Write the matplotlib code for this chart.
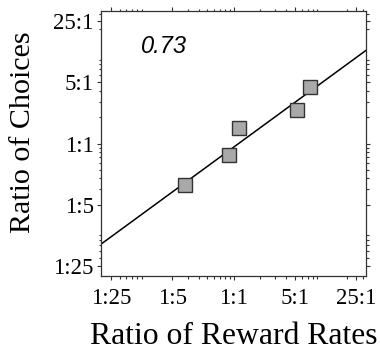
import numpy as np
import matplotlib
matplotlib.use("Agg")
import matplotlib.pyplot as plt
from matplotlib.ticker import FixedLocator, LogLocator, NullFormatter

# reward-rate ratio vs choice ratio, one point per session block
reward_ratio = [0.281, 0.893, 1.152, 5.37, 7.49]
choice_ratio = [0.338, 0.744, 1.50, 2.40, 4.35]

# fitted power law: choices = b * rewards ** slope
slope = 0.73
bias = 0.906

tick_vals = [1 / 25, 1 / 5, 1, 5, 25]
tick_labels = ["1:25", "1:5", "1:1", "5:1", "25:1"]
lim = (1 / 32.5, 32.5)

plt.rcParams["font.family"] = ["Liberation Serif", "DejaVu Serif"]

fig = plt.figure(figsize=(3.8, 3.5), dpi=100)
ax = fig.add_axes([0.266, 0.211, 0.697, 0.758])

xs = np.geomspace(lim[0], lim[1], 100)
ax.plot(xs, bias * xs ** slope, color="black", lw=1.1, zorder=2)
ax.plot(reward_ratio, choice_ratio, ls="none", marker="s", ms=9.8,
        mfc="#a9a9a9", mec="#333333", mew=1.0, zorder=3)

ax.set_xscale("log")
ax.set_yscale("log")
ax.set_xlim(lim)
ax.set_ylim(lim)

for axis in (ax.xaxis, ax.yaxis):
    axis.set_major_locator(FixedLocator(tick_vals))
    axis.set_minor_locator(LogLocator(base=10, subs=np.arange(2, 10)))
    axis.set_minor_formatter(NullFormatter())
ax.set_xticklabels(tick_labels)
ax.set_yticklabels(tick_labels)

ax.tick_params(which="both", direction="out", top=True, right=True,
               labeltop=False, labelright=False, width=0.8, color="#333333")
ax.tick_params(which="major", length=3.2, labelsize=16.5)
ax.tick_params(axis="x", which="major", pad=5)
ax.tick_params(axis="y", which="major", pad=2)
ax.tick_params(which="minor", length=1.8)
for s in ax.spines.values():
    s.set_linewidth(0.9)
    s.set_color("#333333")

ax.set_xlabel("Ratio of Reward Rates", fontsize=22.8, labelpad=10)
ax.set_ylabel("Ratio of Choices", fontsize=21.6, labelpad=12.5, y=0.5415)

ax.text(0.15, 0.865, "0.73", transform=ax.transAxes, fontsize=17,
        style="italic", family="Liberation Sans", va="center", ha="left")

fig.savefig("out.png", dpi=100)
